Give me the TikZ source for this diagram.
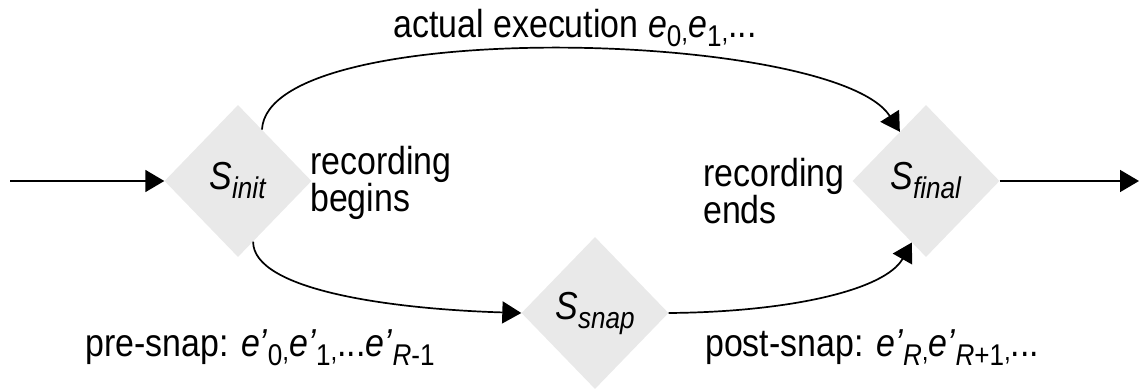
\documentclass[tikz,border=0pt]{standalone}
\usepackage{fontspec}
\setmainfont{Liberation Sans}[FakeStretch=0.87]
\usetikzlibrary{shapes.geometric,arrows.meta}
\definecolor{statefill}{RGB}{233,233,233}
% lowered subscript and small comma
\newcommand{\dn}[1]{\raisebox{-9pt}{\fontsize{30pt}{30pt}\selectfont #1}}
\newcommand{\cm}{\raisebox{-4pt}{\fontsize{28pt}{28pt}\selectfont ,}}
\newcommand{\ep}{\textit{e'}}
\begin{document}
\begin{tikzpicture}[x=1pt,y=-1pt,
  state/.style={shape=diamond, fill=statefill, minimum width=147pt,
    minimum height=152pt, inner sep=0pt, font=\fontsize{39pt}{39pt}\selectfont},
  conn/.style={line width=1.7pt, -{Triangle[length=19pt,width=22pt]}},
  lbl/.style={inner sep=0pt, font=\fontsize{39pt}{37pt}\selectfont}]
\useasboundingbox (0,0) rectangle (1141,391);

% states
\node[state] (init)  at (238,181) {\textit{S}\dn{\textit{init}}};
\node[state] (snap)  at (595,313) {\textit{S}\dn{\textit{snap}}};
\node[state] (final) at (926,181) {\textit{S}\dn{\textit{final}}};

% free ends of the entry and exit arrows
\coordinate (in)  at (10,181);
\coordinate (out) at (1139,181);

% connectors
\draw[conn] (in) -- (init.west);
\draw[conn] (final.east) -- (out);
\draw[conn] (init.65) .. controls (268,15) and (835,30) .. (final.118);
\draw[conn] (init.-76) .. controls (253,290) and (390,309) .. (snap.west);
\draw[conn] (snap.east) .. controls (790,312) and (885,290) .. (final.257);

% labels
\node[lbl, anchor=base] (exec) at (575,37)
  {actual execution \textit{e}\dn{0}\cm\textit{e}\dn{1}\cm...};
\node[lbl, anchor=north west, align=left] (begins) at (310,146)
  {recording\\begins};
\node[lbl, anchor=north west, align=left] (ends) at (703,158)
  {recording\\ends};
\node[lbl, anchor=base west] (pre) at (85,356)
  {pre-snap: \ep\dn{0}\cm\ep\dn{1}\cm...\ep\dn{\textit{R}-1}};
\node[lbl, anchor=base west] (post) at (705,356)
  {post-snap: \ep\dn{\textit{R}}\cm\ep\dn{\textit{R}+1}\cm...};
\end{tikzpicture}
\end{document}
